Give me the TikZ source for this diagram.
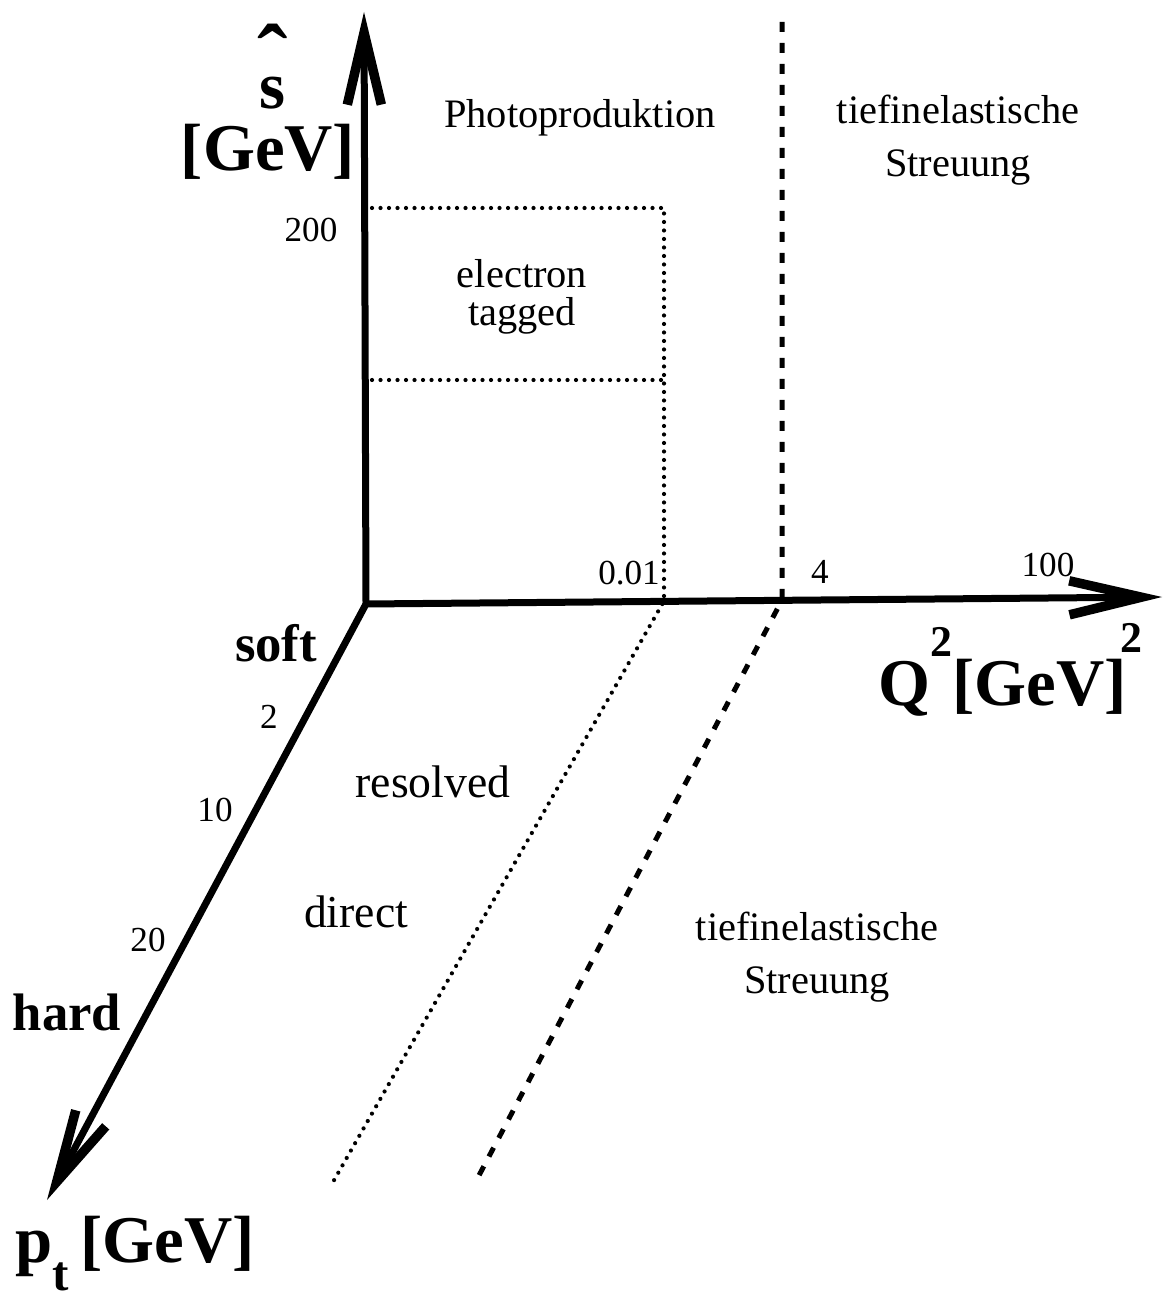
\documentclass[tikz,border=0pt]{standalone}
\usepackage{fontspec}
\setmainfont{Liberation Serif}
\usetikzlibrary{arrows.meta, positioning, calc}

\begin{document}
\begin{tikzpicture}[
    x=0.1mm, y=-0.1mm,
    axis/.style={line width=0.7mm, -{Straight Barb[length=7.2mm, width=3.4mm, line width=0.95mm]}},
    dotline/.style={line width=0.42mm, line cap=round, dash pattern=on 0pt off 0.85mm},
    dashline/.style={line width=0.5mm, dash pattern=on 1.0mm off 1.1mm},
    lbl/.style={font=\fontsize{11.5}{15}\selectfont, align=center, inner sep=0pt},
    reg/.style={font=\fontsize{13}{15}\selectfont, inner sep=0pt},
    num/.style={font=\fontsize{10}{12}\selectfont, inner sep=0pt},
    bigl/.style={font=\fontsize{19}{22}\selectfont\bfseries, inner sep=0pt},
    midl/.style={font=\fontsize{15}{18}\selectfont\bfseries, inner sep=0pt}
]
\useasboundingbox (0,0) rectangle (1163,1296);
\coordinate (O) at (366,604);
\coordinate (stip) at (364,12);
\coordinate (qtip) at (1162,597);
\coordinate (ptip) at (47,1200);
\coordinate (t1) at (372,208);
\coordinate (t2) at (664,208);
\coordinate (m1) at (372,380);
\coordinate (m2) at (664,380);
\coordinate (q1) at (664,601);
\coordinate (dl) at (333,1182);
\coordinate (d0) at (782,22);
\coordinate (d1) at (782,600);
\coordinate (d2) at (475,1183);

\draw[dotline] (t1) -- (t2) -- (m2) -- (q1) -- (dl);
\draw[dotline] (m1) -- (m2);
\draw[dashline] (d0) -- (d1) -- (d2);

\draw[axis] (O) -- (stip);
\draw[axis] (O) -- (qtip);
\draw[axis] (O) -- (ptip);

\node[font=\fontsize{26}{26}\selectfont\bfseries, inner sep=0pt] (hat) at (273,56) {\symbol{"02C6}};
\node[bigl] (shat) at (272,93) {s};
\node[bigl] (sunit) at (268,152) {[GeV]};
\node[num] (n200) at (311,230) {200};
\node[lbl] (photo) at (580,118) {Photoproduktion};
\node[lbl] (dis1) at (958,140) {tiefinelastische\\Streuung};
\node[lbl, font=\fontsize{11.5}{11}\selectfont] (tag) at (522,297) {electron\\tagged};
\node[num] (n001) at (629,573) {0.01};
\node[num] (n4) at (820,572) {4};
\node[num] (n100) at (1048,565) {100};
\node[bigl, anchor=base west] (qunit) at (878,705) {Q\raisebox{0.72em}{\fontsize{12.5}{12}\selectfont 2}[GeV]\kern-0.1em\raisebox{0.78em}{\fontsize{12.5}{12}\selectfont 2}};
\node[midl] (soft) at (276,643) {soft};
\node[num] (n2) at (269,717) {2};
\node[num] (n10) at (215,810) {10};
\node[num] (n20) at (148,940) {20};
\node[midl] (hard) at (67,1012) {hard};
\node[reg] (res) at (433,782) {resolved};
\node[reg] (dir) at (356,912) {direct};
\node[lbl] (dis2) at (817,957) {tiefinelastische\\Streuung};
\node[bigl, anchor=base west] (punit) at (15,1262) {p\raisebox{-0.42em}{\fontsize{14}{14}\selectfont t}\,[GeV]};
\end{tikzpicture}
\end{document}
